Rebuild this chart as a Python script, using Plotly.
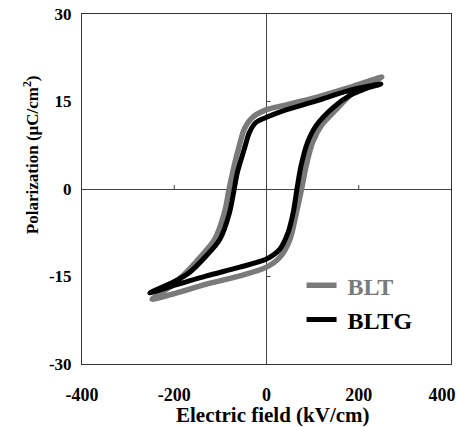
import plotly.graph_objects as go

# ---- data ----
# BLT loop: upper branch (descending field) then lower branch (ascending field)
blt_E = [250, 180, 108, 36, 0, -30, -48, -59, -70, -81, -91, -112, -145, -178, -210, -248,
         -203, -130, -58, 0, 29, 51, 65, 76, 86, 100, 119, 152, 185, 220, 250]
blt_P = [19.2, 17.4, 15.7, 14.3, 13.6, 12.3, 10.3, 7.4, 4.0, 0.0, -4.0, -8.6, -11.8, -14.6, -16.8, -18.9,
         -18.0, -16.3, -14.9, -13.4, -11.7, -8.6, -4.0, 0.0, 4.0, 8.0, 10.9, 13.7, 16.3, 18.0, 19.2]

# BLTG loop
bltg_E = [248, 180, 108, 36, 0, -23, -37, -48, -63, -70, -80, -101, -130, -167, -203, -253,
          -203, -130, -58, 0, 29, 47, 58, 66, 75, 89, 108, 145, 180, 215, 248]
bltg_P = [18.0, 16.9, 15.1, 13.4, 12.3, 11.4, 9.7, 6.9, 2.9, 0.0, -4.0, -8.6, -11.4, -14.3, -16.0, -17.8,
          -16.6, -14.9, -13.4, -12.0, -10.3, -7.4, -4.0, 0.0, 4.0, 8.0, 10.9, 14.0, 16.0, 17.2, 18.0]

x_ticks = [-400, -200, 0, 200, 400]
x_tick_text = ["-400", "-200", "0", "200", "400\u00a0\u00a0\u00a0\u00a0"]
y_ticks = [-30, -15, 0, 15, 30]
y_tick_text = ["-30", "-15", "0", "15", "30"]
x_center_ticks = [-200, 200]   # small ticks on the y=0 line
y_center_ticks = [-15, 15]     # small ticks on the x=0 line

FONT = "Liberation Serif, Times New Roman, serif"
GRAY = "#7a7a7a"

fig = go.Figure()
fig.add_trace(go.Scatter(
    x=blt_E, y=blt_P, mode="lines", name="<span style='color:%s'>\u00a0BLT</span>" % GRAY,
    line=dict(color=GRAY, width=5.5, shape="spline", smoothing=0.8)))
fig.add_trace(go.Scatter(
    x=bltg_E, y=bltg_P, mode="lines", name="\u00a0BLTG",
    line=dict(color="#000000", width=5, shape="spline", smoothing=0.8)))

shapes = []
for v in x_center_ticks:
    shapes.append(dict(type="line", xref="x", yref="y", x0=v, x1=v,
                       ysizemode="pixel", yanchor=0, y0=0, y1=4,
                       line=dict(color="#444", width=1)))
for v in y_center_ticks:
    shapes.append(dict(type="line", xref="x", yref="y", y0=v, y1=v,
                       xsizemode="pixel", xanchor=0, x0=0, x1=4,
                       line=dict(color="#444", width=1)))

fig.update_layout(
    width=459, height=427,
    margin=dict(l=82, r=8, t=14, b=63),
    paper_bgcolor="white", plot_bgcolor="white",
    font=dict(family=FONT, color="black"),
    showlegend=True,
    legend=dict(x=0.595, y=0.288, xanchor="left", yanchor="top",
                bgcolor="rgba(0,0,0,0)", borderwidth=0,
                font=dict(family=FONT, size=24, weight="bold", color="black"),
                tracegroupgap=0),
    xaxis=dict(range=[-400, 400], tickvals=x_ticks, ticktext=x_tick_text,
               showgrid=False, zeroline=True, zerolinecolor="#444", zerolinewidth=1,
               showline=True, mirror=True, linecolor="#333", linewidth=1,
               ticks="", ticklabelstandoff=14, automargin=False,
               ticklabeloverflow="allow",
               tickfont=dict(family=FONT, size=18, weight="bold", color="black")),
    yaxis=dict(range=[-30, 30], tickvals=y_ticks, ticktext=y_tick_text,
               showgrid=False, zeroline=True, zerolinecolor="#444", zerolinewidth=1,
               showline=True, mirror=True, linecolor="#333", linewidth=1,
               ticks="", ticklabelstandoff=6, automargin=False,
               ticklabeloverflow="allow",
               tickfont=dict(family=FONT, size=17, weight="bold", color="black")),
    shapes=shapes,
    annotations=[
        dict(text="Electric field (kV/cm)", xref="paper", yref="paper",
             x=0.518, y=-0.145, xanchor="center", yanchor="middle", showarrow=False,
             font=dict(family=FONT, size=21, weight="bold", color="black")),
        dict(text="Polarization (\u03bcC/cm<sup>2</sup>)", xref="paper", yref="paper",
             x=-0.138, y=0.597, xanchor="center", yanchor="middle", showarrow=False,
             textangle=-90,
             font=dict(family=FONT, size=17, weight="bold", color="black")),
    ],
)

fig.write_html("out.html", config={"displayModeBar": False},
               post_script="document.body.style.margin='0';document.body.style.overflow='hidden';")
